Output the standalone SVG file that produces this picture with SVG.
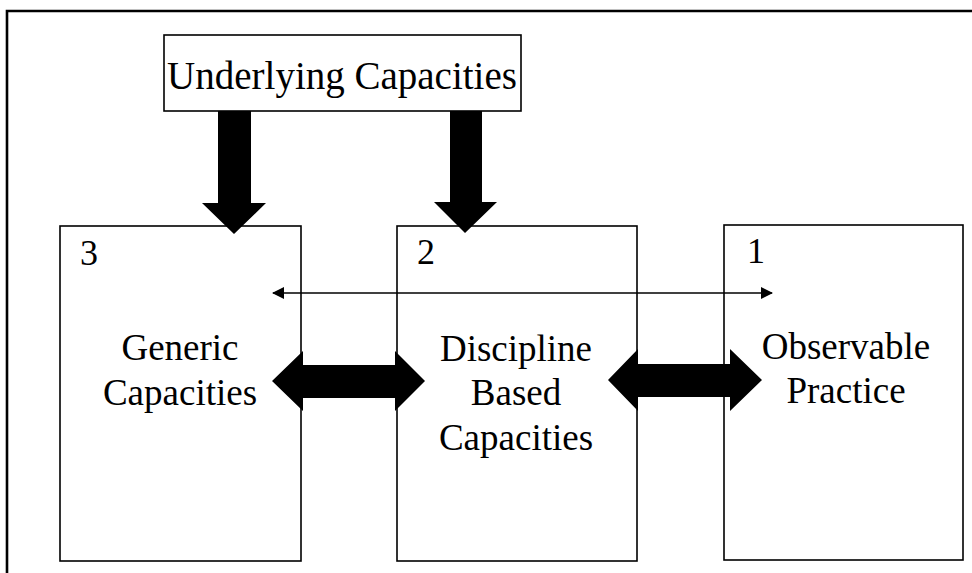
<svg xmlns="http://www.w3.org/2000/svg" width="972" height="573" viewBox="0 0 972 573">
<style>
.box{fill:#fff;stroke:#000;stroke-width:1.6}
.t{font-family:"Liberation Serif","Times New Roman",serif;fill:#000;text-anchor:middle}
.lbl{font-size:37px}
.num{font-family:"Liberation Serif","Times New Roman",serif;fill:#000;font-size:36px}
.big{fill:#000;stroke:none}
</style>
<defs>
<marker id="ah" viewBox="0 0 12 12" refX="11" refY="6" markerWidth="12" markerHeight="12" markerUnits="userSpaceOnUse" orient="auto-start-reverse">
<path d="M0,0 L12,6 L0,12 Z" fill="#000"/>
</marker>
</defs>
<rect width="972" height="573" fill="#fff"/>
<path d="M7,573 L7,11 L972,11" fill="none" stroke="#000" stroke-width="2.6"/>
<g id="node-underlying">
<rect class="box" x="164" y="35" width="357" height="76"/>
<text class="t" x="342" y="89" font-size="39">Underlying Capacities</text>
</g>
<g id="node-3">
<rect class="box" x="60" y="226" width="241" height="335"/>
<text class="num" x="80" y="265">3</text>
<text class="t lbl" x="180" y="360">Generic</text>
<text class="t lbl" x="180" y="405">Capacities</text>
</g>
<g id="node-2">
<rect class="box" x="397" y="226" width="240" height="335"/>
<text class="num" x="417" y="264">2</text>
<text class="t lbl" x="516" y="361">Discipline</text>
<text class="t lbl" x="516" y="405">Based</text>
<text class="t lbl" x="516" y="450">Capacities</text>
</g>
<g id="node-1">
<rect class="box" x="724" y="225" width="239" height="335"/>
<text class="num" x="747" y="263">1</text>
<text class="t lbl" x="846" y="359">Observable</text>
<text class="t lbl" x="846" y="403">Practice</text>
</g>
<g id="connectors">
<path class="big" d="M218,111 L251,111 L251,203 L266,203 L234,234 L202,203 L218,203 Z"/>
<path class="big" d="M450,111 L482,111 L482,202 L497,202 L465,233 L434,202 L450,202 Z"/>
<path class="big" d="M272,381 L303,351 L303,365 L395,365 L395,351 L425,381 L395,411 L395,398 L303,398 L303,411 Z"/>
<path class="big" d="M608,380 L638,349 L638,364 L730,364 L730,349 L762,380 L730,411 L730,397 L638,397 L638,411 Z"/>
<line x1="273" y1="293" x2="772" y2="293" stroke="#000" stroke-width="1.6" marker-start="url(#ah)" marker-end="url(#ah)"/>
</g>
</svg>
